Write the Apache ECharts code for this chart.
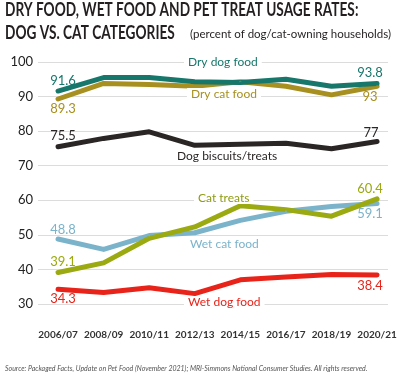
<!DOCTYPE html>
<html>
<head>
<meta charset="utf-8">
<script src="https://cdn.jsdelivr.net/npm/echarts@6/dist/echarts.min.js"></script>
<style>
  html, body { margin: 0; padding: 0; background: #fff; }
  #chart { width: 400px; height: 375px; }
</style>
</head>
<body>
<div id="chart"></div>
<script>
// survey periods
const years = ['2006/07', '2008/09', '2010/11', '2012/13', '2014/15', '2016/17', '2018/19', '2020/21']
const yTicks = [30, 40, 50, 60, 70, 80, 90, 100]

// usage rates, % of dog/cat-owning households
const dryDogFood = [91.6, 95.5, 95.5, 94.3, 94.1, 95.0, 93.0, 93.8]
const dryCatFood = [89.3, 93.8, 93.5, 93.0, 94.3, 93.0, 90.5, 93.0]
const dogTreats = [75.5, 77.9, 79.8, 75.9, 76.2, 76.5, 74.9, 77.0]
const catTreats = [39.1, 41.9, 49.0, 52.3, 58.4, 57.3, 55.4, 60.4]
const wetCatFood = [48.8, 45.8, 49.8, 50.6, 54.2, 56.8, 58.2, 59.1]
const wetDogFood = [34.3, 33.3, 34.7, 33.0, 37.0, 37.8, 38.5, 38.4]

const font = 'Lato, "Noto Sans", sans-serif'
const last = years.length - 1

// only the first and last points get a value label
function makeSeries(name, values, color, firstPos, lastPos, firstOffset, lastOffset) {
  return {
    name: name,
    type: 'line',
    symbol: 'circle',
    symbolSize: 2,
    lineStyle: { width: 5, color: color, cap: 'round', join: 'round' },
    itemStyle: { color: color },
    z: 3,
    data: values.map((v, i) => {
      const item = { value: [i, v] }
      if (i === 0 || i === last) {
        item.label = {
          show: true,
          position: i === 0 ? firstPos : lastPos,
          distance: 3,
          offset: i === 0 ? (firstOffset || [5, 0]) : (lastOffset || [-7, 0]),
          formatter: String(v),
          color: color,
          fontSize: 13,
          fontFamily: font
        }
      }
      return item
    })
  }
}

function nameLabel(text, x, y, color) {
  return {
    type: 'text',
    left: x,
    top: y,
    z: 10,
    style: {
      text: text,
      fill: color,
      font: '12px ' + font,
      backgroundColor: '#fff',
      padding: [0, 4]
    }
  }
}

const chart = echarts.init(document.getElementById('chart'))

chart.setOption({
  animation: false,
  grid: { left: 38, right: 12, top: 62, bottom: 71 },
  xAxis: {
    type: 'value',
    min: -0.44,
    max: 7.24,
    axisLine: { show: false },
    axisTick: { show: false },
    splitLine: { show: false },
    axisLabel: {
      customValues: years.map((y, i) => i),
      formatter: v => years[v],
      margin: 26,
      fontSize: 10,
      fontWeight: 'bold',
      color: '#333',
      fontFamily: font
    }
  },
  yAxis: {
    type: 'value',
    min: yTicks[0],
    max: yTicks[yTicks.length - 1],
    interval: 10,
    axisLine: { show: false },
    axisTick: { show: false },
    axisLabel: { margin: 5, fontSize: 13, color: '#222', fontFamily: font },
    splitLine: { lineStyle: { color: '#dcdcdc', width: 1 } }
  },
  series: [
    makeSeries('Wet dog food', wetDogFood, '#e8241a', 'bottom', 'bottom', [5, -1]),
    makeSeries('Wet cat food', wetCatFood, '#7bb3cb', 'top', 'bottom', [5, 1]),
    makeSeries('Cat treats', catTreats, '#9aaa10', 'top', 'top'),
    makeSeries('Dog biscuits/treats', dogTreats, '#2b2626', 'top', 'top', null, [-6, 2]),
    makeSeries('Dry cat food', dryCatFood, '#a89020', 'bottom', 'bottom', [5, -1]),
    makeSeries('Dry dog food', dryDogFood, '#17776b', 'top', 'top')
  ],
  graphic: [
    {
      type: 'text',
      x: 5,
      y: 1,
      scaleX: 0.76,
      style: { text: 'DRY FOOD, WET FOOD AND PET TREAT USAGE RATES:', fill: '#231f20', font: 'bold 18px ' + font }
    },
    {
      type: 'text',
      x: 5,
      y: 24,
      scaleX: 0.76,
      style: { text: 'DOG VS. CAT CATEGORIES', fill: '#231f20', font: 'bold 18px ' + font }
    },
    {
      type: 'text',
      x: 190,
      y: 28,
      style: { text: '(percent of dog/cat-owning households)', fill: '#231f20', font: '11.5px ' + font }
    },
    nameLabel('Dry dog food', 184, 56, '#17776b'),
    nameLabel('Dry cat food', 187, 88, '#a89020'),
    nameLabel('Dog biscuits/treats', 173, 150, '#2b2626'),
    nameLabel('Cat treats', 194, 192, '#8e9c12'),
    nameLabel('Wet cat food', 186, 238, '#7bb3cb'),
    nameLabel('Wet dog food', 184, 296, '#e8241a'),
    {
      type: 'text',
      left: 5,
      top: 365,
      style: {
        text: 'Source: Packaged Facts, Update on Pet Food (November 2021); MRI-Simmons National Consumer Studies. All rights reserved.',
        fill: '#555',
        font: 'italic 7px ' + font
      }
    }
  ]
})
</script>
</body>
</html>
